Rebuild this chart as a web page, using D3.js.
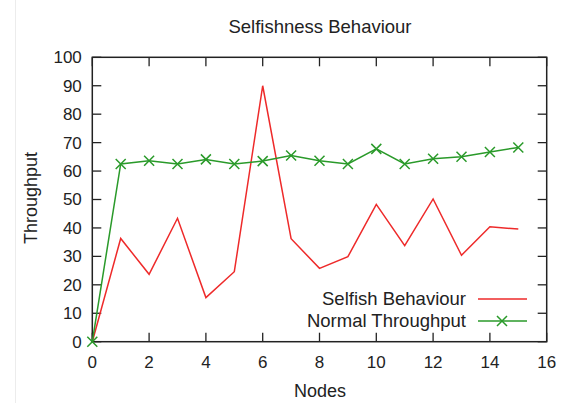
<!DOCTYPE html>
<html><head><meta charset="utf-8">
<script src="https://cdn.jsdelivr.net/npm/d3@7"></script>
<style>body{margin:0;background:#fff}svg{display:block}text{font-family:"Liberation Sans",Arial,sans-serif;fill:#222}</style>
</head><body><svg id="c" width="567" height="403"></svg>
<script>
const nodes = [0,1,2,3,4,5,6,7,8,9,10,11,12,13,14,15];
const selfish = [0,36.3,23.7,43.4,15.5,24.6,90,36.2,25.8,29.9,48.3,33.8,50.2,30.4,40.4,39.6];
const normal = [0,62.5,63.6,62.5,64.1,62.5,63.5,65.5,63.6,62.5,67.8,62.5,64.3,65,66.7,68.3];
const xTicks = [0,2,4,6,8,10,12,14,16];
const yTicks = [0,10,20,30,40,50,60,70,80,90,100];
const seriesNames = ["Selfish Behaviour","Normal Throughput"];

const svg = d3.select("#c");
const L=92.3,R=546.7,T=57.3,B=341.7;
const x = d3.scaleLinear().domain([0,16]).range([L,R]);
const y = d3.scaleLinear().domain([0,100]).range([B,T]);
const red="#ee2a2a", green="#2a9a2a";

svg.append("line").attr("x1",15.5).attr("x2",15.5).attr("y1",0).attr("y2",403).attr("stroke","#ececec");

const tl=9;
const g = svg.append("g");
xTicks.forEach(v=>{
  g.append("line").attr("x1",x(v)).attr("x2",x(v)).attr("y1",B).attr("y2",B-tl).attr("stroke","#222").attr("stroke-width",1.3);
  g.append("line").attr("x1",x(v)).attr("x2",x(v)).attr("y1",T).attr("y2",T+tl).attr("stroke","#222").attr("stroke-width",1.3);
  g.append("text").attr("x",x(v)).attr("y",B+26).attr("text-anchor","middle").attr("font-size",17).text(v);
});
yTicks.forEach(v=>{
  g.append("line").attr("x1",L).attr("x2",L+tl).attr("y1",y(v)).attr("y2",y(v)).attr("stroke","#222").attr("stroke-width",1.3);
  g.append("line").attr("x1",R).attr("x2",R-tl).attr("y1",y(v)).attr("y2",y(v)).attr("stroke","#222").attr("stroke-width",1.3);
  g.append("text").attr("x",L-10.5).attr("y",y(v)).attr("dy","0.35em").attr("text-anchor","end").attr("font-size",17).text(v);
});
svg.append("rect").attr("x",L).attr("y",T).attr("width",R-L).attr("height",B-T).attr("fill","none").attr("stroke","#222").attr("stroke-width",1.5);

svg.append("text").attr("x",320).attr("y",33).attr("text-anchor","middle").attr("font-size",18.5).text("Selfishness Behaviour");
svg.append("text").attr("x",320).attr("y",397).attr("text-anchor","middle").attr("font-size",18).text("Nodes");
svg.append("text").attr("transform","translate(37,198) rotate(-90)").attr("text-anchor","middle").attr("font-size",18).text("Throughput");

const line = d3.line().x((d,i)=>x(nodes[i])).y(d=>y(d));
svg.append("path").datum(selfish).attr("d",line).attr("fill","none").attr("stroke",red).attr("stroke-width",1.5);
svg.append("path").datum(normal).attr("d",line).attr("fill","none").attr("stroke",green).attr("stroke-width",1.5);
const ms=5;
function cross(sel,cx,cy){
  sel.append("path").attr("d",`M${cx-ms},${cy-ms}L${cx+ms},${cy+ms}M${cx-ms},${cy+ms}L${cx+ms},${cy-ms}`).attr("stroke",green).attr("stroke-width",1.5);
}
normal.forEach((v,i)=>cross(svg,x(nodes[i]),y(v)));

const ly=[299,321];
svg.append("text").attr("x",466).attr("y",ly[0]).attr("dy","0.35em").attr("text-anchor","end").attr("font-size",18.5).text(seriesNames[0]);
svg.append("text").attr("x",466).attr("y",ly[1]).attr("dy","0.35em").attr("text-anchor","end").attr("font-size",18.5).text(seriesNames[1]);
svg.append("line").attr("x1",478).attr("x2",527).attr("y1",ly[0]).attr("y2",ly[0]).attr("stroke",red).attr("stroke-width",1.5);
svg.append("line").attr("x1",478).attr("x2",527).attr("y1",ly[1]).attr("y2",ly[1]).attr("stroke",green).attr("stroke-width",1.5);
cross(svg,502,ly[1]);
</script></body></html>
